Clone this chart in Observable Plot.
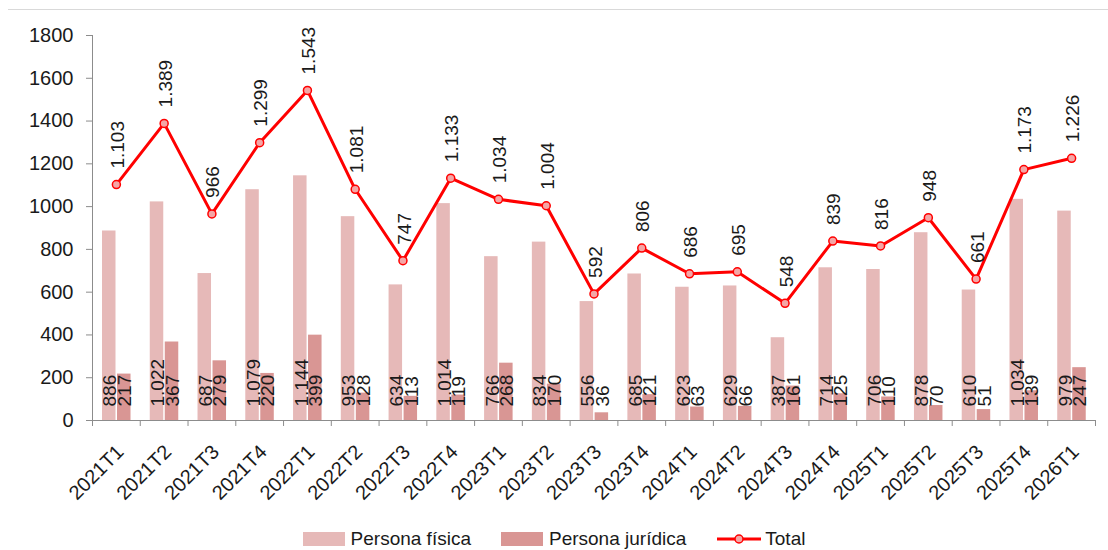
<!DOCTYPE html>
<html>
<head>
<meta charset="utf-8">
<script src="https://cdn.jsdelivr.net/npm/d3@7"></script>
<script src="https://cdn.jsdelivr.net/npm/@observablehq/plot@0.6"></script>
<style>
  html, body { margin: 0; padding: 0; background: #fff; }
  body { width: 1108px; height: 550px; overflow: hidden; font-family: "Liberation Sans", Arial, sans-serif; }
  #topline { height: 9px; }
  #border { border-top: 1px solid #d9d9d9; margin-left: 8px; }
  #legend { display: flex; justify-content: center; align-items: center; height: 24px; padding-top: 7px; font-size: 19px; line-height: 22px; color: #1a1a1a; }
  .item { display: flex; align-items: center; margin: 0 15px; }
  .sw { width: 42px; height: 14px; margin-right: 6px; }
  svg { display: block; }
</style>
</head>
<body>
<div id="topline"></div>
<div id="border"></div>
<div id="chart"></div>
<div id="legend">
  <div class="item"><div class="sw" style="background:#E6B9B8"></div>Persona física</div>
  <div class="item"><div class="sw" style="background:#D99694"></div>Persona jurídica</div>
  <div class="item"><svg width="46" height="14" style="margin-right:3px"><line x1="1" y1="7" x2="45" y2="7" stroke="#FF0000" stroke-width="3"/><circle cx="23" cy="7" r="4" fill="#F4A6A6" stroke="#FF0000" stroke-width="1.5"/></svg>Total</div>
</div>
<script>
const periods = ["2021T1","2021T2","2021T3","2021T4","2022T1","2022T2","2022T3","2022T4","2023T1","2023T2","2023T3","2023T4","2024T1","2024T2","2024T3","2024T4","2025T1","2025T2","2025T3","2025T4","2026T1"];
const fisica = [886,1022,687,1079,1144,953,634,1014,766,834,556,685,623,629,387,714,706,878,610,1034,979];
const juridica = [217,367,279,220,399,128,113,119,268,170,36,121,63,66,161,125,110,70,51,139,247];
const total = [1103,1389,966,1299,1543,1081,747,1133,1034,1004,592,806,686,695,548,839,816,948,661,1173,1226];
const yTicks = [0,200,400,600,800,1000,1200,1400,1600,1800];

const rows = periods.map((p, i) => ({p, f: fisica[i], j: juridica[i], t: total[i]}));
const fmt = v => v >= 1000 ? Math.floor(v / 1000) + "." + String(v % 1000).padStart(3, "0") : String(v);

const W = 1108, ML = 92, MR = 13;
const bw = (W - ML - MR) / periods.length;
const axisCol = "#8c8c8c";
const txt = "#1a1a1a";

const chart = Plot.plot({
  width: W,
  height: 510,
  marginLeft: ML,
  marginRight: MR,
  marginTop: 25,
  marginBottom: 100,
  style: {fontFamily: "'Liberation Sans', Arial, sans-serif", fontSize: "19px", color: txt, background: "#fff"},
  x: {domain: periods, padding: 0, round: false, axis: null},
  y: {domain: [0, 1800], axis: null},
  marks: [
    Plot.barY(rows, {x: "p", y: "f", fill: "#E6B9B8", insetLeft: 10, insetRight: bw - 23.5}),
    Plot.barY(rows, {x: "p", y: "j", fill: "#D99694", insetLeft: 25, insetRight: bw - 38.5}),
    Plot.ruleY([0], {stroke: axisCol}),
    Plot.ruleX([periods[0]], {x: d => d, dx: -bw / 2, y1: 0, y2: 1800, stroke: axisCol}),
    Plot.ruleX(periods, {x: d => d, dx: -bw / 2, y1: 0, y2: -28, stroke: axisCol}),
    Plot.ruleX([periods[periods.length - 1]], {x: d => d, dx: bw / 2, y1: 0, y2: -28, stroke: axisCol}),
    Plot.axisY({ticks: yTicks, tickSize: 6, tickPadding: 13, tickFormat: d => String(d), fontSize: 20, stroke: axisCol, fill: txt}),
    Plot.axisX({tickSize: 0, tickRotate: -45, tickPadding: 28, dx: 4, fontSize: 20, fill: txt, label: null}),
    Plot.text(rows, {x: "p", y: 0, text: d => fmt(d.f), rotate: -90, textAnchor: "start", dx: -6, dy: -14, fontSize: 19, fill: txt}),
    Plot.text(rows, {x: "p", y: 0, text: d => fmt(d.j), rotate: -90, textAnchor: "start", dx: 8.5, dy: -14, fontSize: 19, fill: txt}),
    Plot.line(rows, {x: "p", y: "t", stroke: "#FF0000", strokeWidth: 3}),
    Plot.dot(rows, {x: "p", y: "t", r: 4, fill: "#F4A6A6", stroke: "#FF0000", strokeWidth: 1.5}),
    Plot.text(rows, {x: "p", y: "t", text: d => fmt(d.t), rotate: -90, textAnchor: "start", dx: 1.5, dy: -16, fontSize: 19, fill: txt})
  ]
});
document.getElementById("chart").appendChild(chart);
</script>
</body>
</html>
